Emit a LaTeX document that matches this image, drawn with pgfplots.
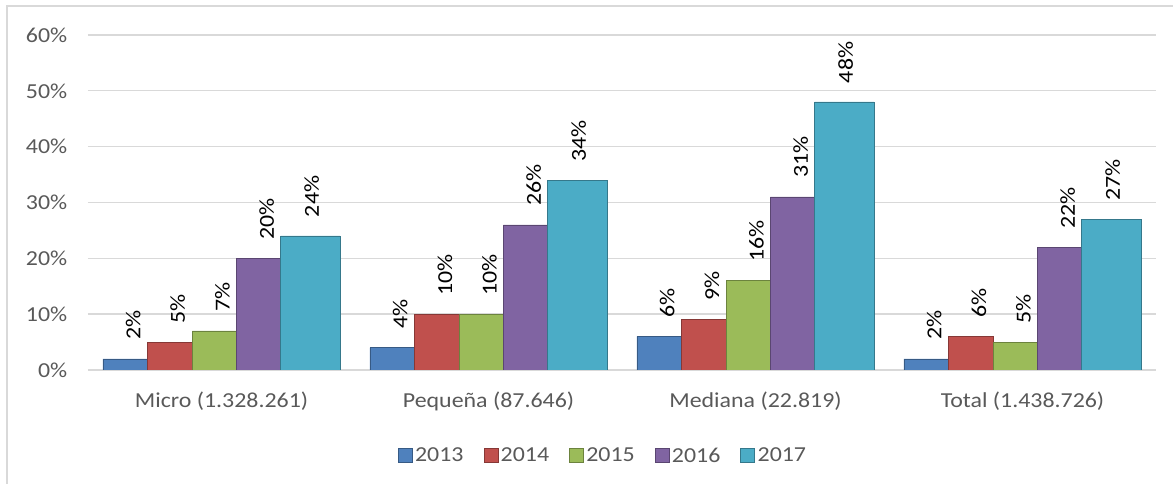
\documentclass[border=0pt]{standalone}
\usepackage{fontspec}
\setmainfont{Carlito}[FakeStretch=1.12]
\usepackage{pgfplots}
\pgfplotsset{compat=1.18}

\definecolor{c2013}{HTML}{4F81BD}
\definecolor{c2014}{HTML}{C0504D}
\definecolor{c2015}{HTML}{9BBB59}
\definecolor{c2016}{HTML}{8064A2}
\definecolor{c2017}{HTML}{4BACC6}
\definecolor{txtgrey}{HTML}{595959}
\definecolor{gridgrey}{HTML}{D9D9D9}

\newcommand{\chartfont}{\fontsize{16}{19}\selectfont}

\tikzset{lbl/.style={shift={(#1,14pt)}, rotate=90, anchor=west, inner sep=0pt,
  font=\chartfont, text=black}}

\begin{document}
\begin{tikzpicture}
  % 1 px of the reference = 0.75pt; axis origin at px (88,370)
  \useasboundingbox (-66pt,-85.5pt) rectangle (813.75pt,277.5pt);
  \draw[gridgrey, line width=1.2pt] (-60.75pt,-95pt) -- (-60.75pt,273pt) -- (830pt,273pt);

  \begin{axis}[
      at={(0pt,0pt)}, anchor=south west,
      scale only axis,
      width=801pt, height=251.25pt,
      ybar,
      xmin=-0.5, xmax=3.5,
      ymin=0, ymax=60,
      enlargelimits=false,
      xtick={0,1,2,3},
      xticklabels={Micro (1.328.261), Pequeña (87.646), Mediana (22.819), Total (1.438.726)},
      ytick={0,10,...,60},
      yticklabel={\pgfmathprintnumber{\tick}\%},
      /pgf/number format/assume math mode=true,
      ymajorgrids,
      grid style={gridgrey, line width=1pt},
      axis line style={draw=none},
      major tick length=0pt,
      tick label style={font=\chartfont, text=txtgrey},
      yticklabel style={xshift=-12pt},
      xticklabel style={yshift=-13pt},
      nodes near coords={\pgfmathprintnumber{\pgfplotspointmeta}\%},
      legend columns=5,
      legend style={at={(0.4825,-0.2567)}, anchor=center, draw=none,
        font=\chartfont, text=txtgrey,
        /tikz/every even column/.append style={column sep=13pt}},
      legend image code/.code={\draw[#1] (0pt,-4.5pt) rectangle (10.5pt,6pt);},
  ]

  % 2013
  \addplot[fill=c2013, draw=c2013!70!black, bar width=0.1667, bar shift=-0.3607,
    nodes near coords style={lbl=6pt}] coordinates {(0,2) (1,4) (2,6) (3,2)};
  \addlegendentry{2013}

  % 2014
  \addplot[fill=c2014, draw=c2014!70!black, bar width=0.1667, bar shift=-0.1936,
    nodes near coords style={lbl=6pt}] coordinates {(0,5) (1,10) (2,9) (3,6)};
  \addlegendentry{2014}

  % 2015
  \addplot[fill=c2015, draw=c2015!70!black, bar width=0.1667, bar shift=-0.0262,
    nodes near coords style={lbl=6pt}] coordinates {(0,7) (1,10) (2,16) (3,5)};
  \addlegendentry{2015}

  % 2016
  \addplot[fill=c2016, draw=c2016!70!black, bar width=0.1667, bar shift=0.1393,
    nodes near coords style={lbl=6pt}] coordinates {(0,20) (1,26) (2,31) (3,22)};
  \addlegendentry{2016}

  % 2017
  \addplot[fill=c2017, draw=c2017!70!black, bar width=0.222, bar shift=0.3326,
    nodes near coords style={lbl=1pt}] coordinates {(0,24) (1,34) (2,48) (3,27)};
  \addlegendentry{2017}

  \end{axis}
\end{tikzpicture}
\end{document}
